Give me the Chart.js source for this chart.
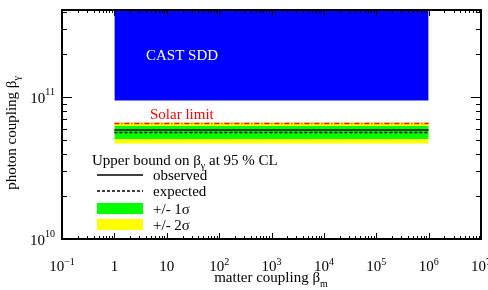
<!DOCTYPE html>
<html>
<head>
<meta charset="utf-8">
<script src="https://cdn.jsdelivr.net/npm/chart.js@4.4.0/dist/chart.umd.min.js"></script>
<style>
  html, body { margin: 0; padding: 0; background: #fff; }
  #wrap { width: 488px; height: 290px; position: relative; }
</style>
</head>
<body>
<div id="wrap"><canvas id="limitChart"></canvas></div>
<script>
// matter coupling range covered by the limits
const matterCoupling = [1, 1e6];

// photon coupling bounds (flat over the matter coupling range)
const castSdd = [9.45e10, 9.45e10];
const solarLimit = [6.5e10, 6.5e10];
const observed = [5.86e10, 5.86e10];
const expected = [5.63e10, 5.63e10];
const sigma1Up = [6.25e10, 6.25e10];
const sigma1Down = [5.06e10, 5.06e10];
const sigma2Up = [6.61e10, 6.61e10];
const sigma2Down = [4.71e10, 4.71e10];

// axis ticks (powers of ten) and their labels
const xTickExps = [-1, 0, 1, 2, 3, 4, 5, 6, 7];
const xTickLabels = [["10", "\u22121"], ["1", ""], ["10", ""], ["10", "2"], ["10", "3"], ["10", "4"], ["10", "5"], ["10", "6"], ["10", "7"]];
const yTickExps = [10, 11];
const yTickLabels = [["10", "10"], ["10", "11"]];

const X_MIN = 0.1, X_MAX = 1e7;
const Y_MIN = 1e10, Y_MAX = 4.1e11;

const SERIF = "'Liberation Serif', 'Times New Roman', serif";
const BLUE = "#0000ff";
const GREEN = "#00ff00";
const YELLOW = "#ffff00";
const RED = "#ff0000";

function pts(ys) {
  return matterCoupling.map((x, i) => ({ x: x, y: ys[i] }));
}

function supWidth(ctx, base, sup, size) {
  ctx.font = size + "px " + SERIF;
  let w = ctx.measureText(base).width;
  if (sup) {
    ctx.font = Math.round(size * 0.66) + "px " + SERIF;
    w += ctx.measureText(sup).width;
  }
  return w;
}

// draws base text with a raised (sup) or lowered (sub) suffix
function drawScript(ctx, base, extra, x, y, size, shift) {
  ctx.textAlign = "left";
  ctx.textBaseline = "alphabetic";
  ctx.font = size + "px " + SERIF;
  ctx.fillText(base, x, y);
  const w = ctx.measureText(base).width;
  if (extra) {
    ctx.font = Math.round(size * 0.66) + "px " + SERIF;
    ctx.fillText(extra, x + w, y + shift);
  }
}

const framePlugin = {
  id: "frame",
  afterDraw(chart) {
    const ctx = chart.ctx;
    const xs = chart.scales.x;
    const ys = chart.scales.y;
    const { left, right, top, bottom } = chart.chartArea;

    ctx.save();
    ctx.strokeStyle = "#000";
    ctx.fillStyle = "#000";

    // tick marks, pointing inwards on all four sides
    ctx.lineWidth = 1;
    ctx.beginPath();
    for (const e of xTickExps) {
      for (let k = 1; k <= 9; k++) {
        const v = k * Math.pow(10, e);
        if (v > X_MAX * 1.0001) break;
        const px = Math.round(xs.getPixelForValue(v)) + 0.5;
        const len = k === 1 ? 6 : 3;
        ctx.moveTo(px, bottom); ctx.lineTo(px, bottom - len);
        ctx.moveTo(px, top); ctx.lineTo(px, top + len);
      }
    }
    for (const e of yTickExps) {
      for (let k = 1; k <= 9; k++) {
        const v = k * Math.pow(10, e);
        if (v > Y_MAX) break;
        const py = Math.round(ys.getPixelForValue(v)) + 0.5;
        const len = k === 1 ? 10 : 5;
        ctx.moveTo(left, py); ctx.lineTo(left + len, py);
        ctx.moveTo(right, py); ctx.lineTo(right - len, py);
      }
    }
    ctx.stroke();

    // frame
    ctx.lineWidth = 2;
    ctx.strokeRect(left, top, right - left, bottom - top);

    // x tick labels
    xTickExps.forEach((e, i) => {
      const [base, sup] = xTickLabels[i];
      const px = xs.getPixelForValue(Math.pow(10, e));
      const w = supWidth(ctx, base, sup, 15);
      drawScript(ctx, base, sup, px - w / 2, 271, 15, -6);
    });

    // y tick labels
    yTickExps.forEach((e, i) => {
      const [base, sup] = yTickLabels[i];
      const py = ys.getPixelForValue(Math.pow(10, e));
      const w = supWidth(ctx, base, sup, 15);
      drawScript(ctx, base, sup, 55 - w, py + 6, 15, -8);
    });

    // axis titles
    const tw = supWidth(ctx, "matter coupling \u03b2", "m", 15);
    drawScript(ctx, "matter coupling \u03b2", "m", 271 - tw / 2, 282, 15, 5);

    ctx.save();
    ctx.translate(16, 133);
    ctx.rotate(-Math.PI / 2);
    const yw = supWidth(ctx, "photon coupling \u03b2", "\u03b3", 15);
    drawScript(ctx, "photon coupling \u03b2", "\u03b3", -yw / 2, 0, 15, 4);
    ctx.restore();

    // region annotations
    ctx.fillStyle = "#fff";
    drawScript(ctx, "CAST SDD", "", 146, 60, 15, 0);
    ctx.fillStyle = RED;
    drawScript(ctx, "Solar limit", "", 150, 119, 15, 0);

    // legend
    ctx.fillStyle = "#000";
    ctx.font = "15px " + SERIF;
    drawScript(ctx, "Upper bound on \u03b2", "\u03b3", 92, 165, 15, 4);
    const w1 = supWidth(ctx, "Upper bound on \u03b2", "\u03b3", 15);
    drawScript(ctx, " at 95 % CL", "", 92 + w1, 165, 15, 0);

    ctx.lineWidth = 1.5;
    ctx.beginPath();
    ctx.moveTo(97, 175); ctx.lineTo(143, 175);
    ctx.stroke();
    ctx.setLineDash([3, 2]);
    ctx.beginPath();
    ctx.moveTo(97, 191); ctx.lineTo(143, 191);
    ctx.stroke();
    ctx.setLineDash([]);
    ctx.fillStyle = GREEN;
    ctx.fillRect(97, 203, 46, 11);
    ctx.fillStyle = YELLOW;
    ctx.fillRect(97, 219, 46, 11);

    ctx.fillStyle = "#000";
    drawScript(ctx, "observed", "", 153, 180, 15, 0);
    drawScript(ctx, "expected", "", 153, 196, 15, 0);
    drawScript(ctx, "+/- 1\u03c3", "", 153, 214, 15, 0);
    drawScript(ctx, "+/- 2\u03c3", "", 153, 230, 15, 0);

    ctx.restore();
  },
};

function line(data, color, dash) {
  return {
    data: pts(data),
    borderColor: color,
    borderWidth: 1.5,
    borderDash: dash || [],
    pointRadius: 0,
    fill: false,
  };
}

function band(data, color, fill) {
  return {
    data: pts(data),
    borderWidth: 0,
    borderColor: "rgba(0,0,0,0)",
    backgroundColor: color,
    pointRadius: 0,
    fill: fill,
  };
}

// dataset 0 is painted last (on top)
const datasets = [
  line(observed, "#000"),
  line(expected, "#000", [3, 2]),
  line(solarLimit, RED, [5, 2, 1, 2]),
  band(sigma1Up, GREEN, 4),
  band(sigma1Down, GREEN, false),
  band(sigma2Up, YELLOW, 6),
  band(sigma2Down, YELLOW, false),
  band(castSdd, BLUE, "end"),
];

new Chart(document.getElementById("limitChart").getContext("2d"), {
  type: "line",
  data: { datasets: datasets },
  options: {
    responsive: true,
    maintainAspectRatio: false,
    animation: false,
    devicePixelRatio: 1,
    layout: { padding: { left: 62, right: 7, top: 10, bottom: 51 } },
    plugins: {
      legend: { display: false },
      tooltip: { enabled: false },
    },
    scales: {
      x: { type: "logarithmic", min: X_MIN, max: X_MAX, display: false },
      y: { type: "logarithmic", min: Y_MIN, max: Y_MAX, display: false },
    },
  },
  plugins: [framePlugin],
});
</script>
</body>
</html>
